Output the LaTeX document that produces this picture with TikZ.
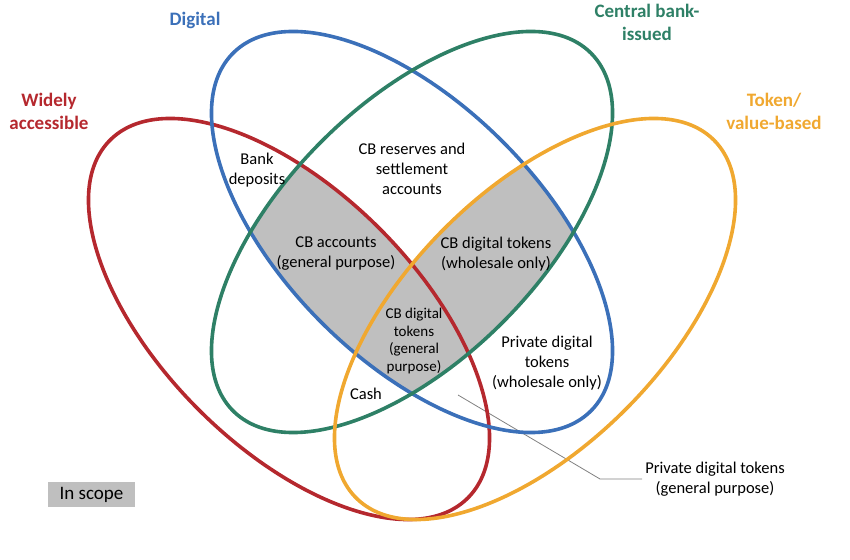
\documentclass[tikz,border=0pt]{standalone}
\usepackage{fontspec}
\setmainfont{Carlito}
\definecolor{cred}{HTML}{B5282E}
\definecolor{cblue}{HTML}{3B70B9}
\definecolor{cgreen}{HTML}{2E8066}
\definecolor{corange}{HTML}{F0A830}
\definecolor{cgray}{HTML}{BFBFBF}
\begin{document}
\begin{tikzpicture}[x=1pt,y=1pt,
  ring/.style={line width=3.6pt},
  txt/.style={align=center,font=\fontsize{16.5}{20}\selectfont,inner sep=1pt},
  smalltxt/.style={align=center,font=\fontsize{15}{17.5}\selectfont,inner sep=1pt},
  lbl/.style={align=center,font=\bfseries\fontsize{19}{23}\selectfont,inner sep=1pt},
  leader/.style={draw=gray,line width=0.8pt}]
\useasboundingbox (0,0) rectangle (850,559);
\coordinate (cR) at (289,240);
\coordinate (cO) at (535,240);
\coordinate (cD) at (412,327);
% shaded in-scope region
\begin{scope}
  \clip[rotate around={-45:(cD)}] (cD) ellipse [x radius=253pt, y radius=128pt];
  \clip[rotate around={45:(cD)}] (cD) ellipse [x radius=253pt, y radius=128pt];
  \fill[cgray,rotate around={-45:(cR)}] (cR) ellipse [x radius=253pt, y radius=128pt];
  \fill[cgray,rotate around={45:(cO)}] (cO) ellipse [x radius=253pt, y radius=128pt];
\end{scope}
% leader line
\node[txt,inner sep=3pt] (pgt) at (715,80) {Private digital tokens\\(general purpose)};
\coordinate (lp) at (458,164);
\coordinate (lk) at (600,80);
\draw[leader] (lp) -- (lk) -- (pgt.west);
% ellipses
\draw[ring,cred,rotate around={-45:(cR)}] (cR) ellipse [x radius=253pt, y radius=128pt];
\draw[ring,cblue,rotate around={-45:(cD)}] (cD) ellipse [x radius=253pt, y radius=128pt];
\draw[ring,cgreen,rotate around={45:(cD)}] (cD) ellipse [x radius=253pt, y radius=128pt];
\draw[ring,corange,rotate around={45:(cO)}] (cO) ellipse [x radius=253pt, y radius=128pt];
% set labels
\node[lbl,text=cblue] (ldig) at (195,539) {Digital};
\node[lbl,text=cgreen] (lcb) at (647,537) {Central bank-\\issued};
\node[lbl,text=cred] (lwide) at (49,448) {Widely\\accessible};
\node[lbl,text=corange] (ltok) at (774,448) {Token/\\value-based};
% region texts
\node[txt] (bank) at (257,389) {Bank\\deposits};
\node[txt] (res) at (412,390) {CB reserves and\\settlement\\accounts};
\node[txt] (cbacc) at (336,305) {CB accounts\\(general purpose)};
\node[txt] (cbwh) at (496,305) {CB digital tokens\\(wholesale only)};
\node[smalltxt] (cbgp) at (414,218) {CB digital\\tokens\\(general\\purpose)};
\node[txt] (pwh) at (547,196) {Private digital\\tokens\\(wholesale only)};
\node[txt] (cash) at (366,165) {Cash};
\node[fill=cgray,font=\fontsize{19}{22}\selectfont,minimum width=87pt,minimum height=25pt,inner sep=0pt] (scope) at (91.5,64.5) {In scope};
\end{tikzpicture}
\end{document}
